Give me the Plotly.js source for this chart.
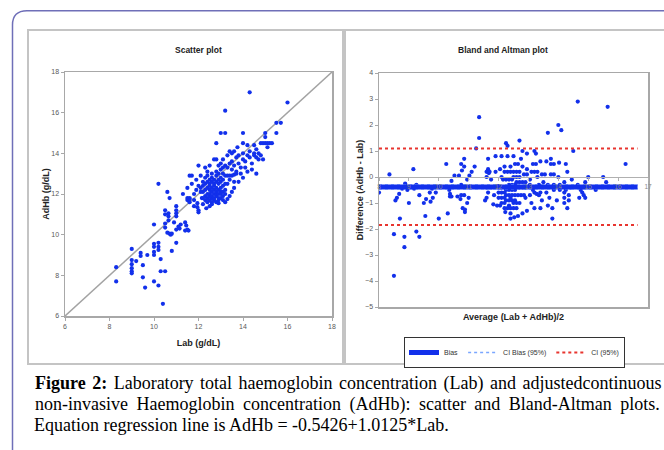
<!DOCTYPE html>
<html>
<head>
<meta charset="utf-8">
<script src="https://cdn.plot.ly/plotly-3.0.1.min.js"></script>
<style>
html,body{margin:0;padding:0;background:#fff;}
#chart{width:664px;height:450px;}
g.annotation[data-index="2"] text{word-spacing:2px;}
g.annotation[data-index="3"] text{word-spacing:4px;}
</style>
</head>
<body>
<div id="chart"></div>
<script>
// ---- Data (Lab vs AdHb, g/dL) ----
const labLow  = [8.3,8.3,9.0,9.0,9.0,9.0,9.0,9.0,9.2,9.4,9.4,9.5,9.5,9.6,9.7,10.0,10.0,10.0,10.0,10.0,10.0,10.2,10.2,10.2,10.3,10.3,10.5,10.4,10.2,10.2];
const adhbLow = [8.4,7.7,9.3,8.75,8.55,8.35,8.2,8.1,8.7,9.1,8.95,8.5,7.9,7.4,9.0,9.55,9.4,9.15,9.0,10.5,7.7,9.6,9.4,9.25,8.8,8.2,8.2,6.6,7.5,12.5];

const labB  = [10.8,10.6,10.7,10.5,10.5,10.5,10.5,10.65,10.65,10.65,10.6,10.7,10.75,10.8,11.0,11.0,11.0,11.0,11.0,10.9,11.1,11.2,11.0,11.15,11.4,11.45,11.5,11.55,11.4,11.3,11.5,11.5,11.6];
const adhbB = [9.2,12.1,11.8,11.2,11.0,10.55,10.35,11.05,10.9,10.7,10.1,10.05,10.0,10.05,11.4,11.2,11.05,10.9,9.6,10.6,10.4,10.5,10.25,10.3,10.6,10.45,10.25,10.2,10.2,12.0,11.8,11.7,11.75];

const labC  = [12.2,12.2,12.2,12.2, 12.3,12.3,12.3,12.3,12.3, 12.4,12.4,12.4,12.4,12.4,12.4, 12.5,12.5,12.5,12.5,12.5,12.5,12.5,
               12.6,12.6,12.6,12.6,12.6,12.6,12.6,12.6, 12.7,12.7,12.7,12.7,12.7,12.7,12.7, 12.8,12.8,12.8,12.8,12.8,12.8,12.8,12.8,
               12.9,12.9,12.9,12.9,12.9,12.9,12.9, 13.0,13.0,13.0,13.0,13.0,13.0,13.0, 13.1,13.1,13.1,13.1,13.1,13.1, 13.2,13.2,13.2,13.2,13.2];
const adhbC = [11.8,12.1,12.4,12.6, 11.7,11.9,12.2,12.5,12.8, 11.6,11.8,12.0,12.3,12.6,12.9, 11.7,11.9,12.0,12.2,12.4,12.5,12.7,
               11.6,11.8,11.9,12.1,12.3,12.6,12.8,13.0, 11.7,11.8,12.0,12.2,12.4,12.5,12.7, 11.6,11.9,12.0,12.1,12.3,12.6,12.9,13.1,
               11.7,11.8,12.0,12.2,12.5,12.7,13.0, 11.8,12.0,12.1,12.3,12.6,12.8,13.2, 11.9,12.1,12.4,12.7,13.0,13.3, 12.0,12.2,12.5,12.9,13.4];

const labD  = [13.3,13.4,13.5,13.6,13.7,13.3,13.4,13.5,13.5,13.6,13.7,13.8,13.8,13.9,14.0,14.0,14.1,14.2,14.3,14.3,14.4,14.5,14.5,14.6,14.6,14.7,14.7,14.8,14.9,14.6,14.4,13.6,13.8,14.0,14.2,13.9,13.4,13.3,14.1,13.7];
const adhbD = [12.9,12.9,12.9,12.95,13.0,13.3,13.5,13.2,13.6,13.4,13.8,13.5,13.9,13.3,13.7,14.0,13.6,13.9,13.8,14.1,13.5,13.9,14.0,13.8,14.2,13.7,14.0,13.9,13.7,13.0,13.2,12.6,12.6,12.8,13.1,13.0,12.7,12.5,13.3,13.1];

const labE  = [12.8,13.75,14.0,13.0,13.2,14.0,13.2,14.3,16.0,15.5,15.7,15.5,15.0,14.8,14.9,15.0,15.1,15.2,15.3,15.0,15.1,14.5,14.2,13.5,13.3,13.1,12.8,12.7,13.0,12.3,12.0,11.6,11.7,11.9,12.1,12.4,12.5,12.9,13.4,13.6];
const adhbE = [14.5,14.3,14.5,15.0,15.0,15.0,16.1,17.0,16.5,15.5,15.5,15.0,15.0,14.5,14.5,14.5,14.5,14.5,14.5,14.8,14.3,14.4,14.4,14.0,13.9,13.7,13.7,13.7,13.5,13.3,13.4,12.9,12.9,12.7,12.9,13.1,13.4,13.4,14.1,14.1];

const labF  = [12.0,12.0,11.95,11.95,12.35,12.5,12.6,12.9,13.2,13.3,13.4,13.5,13.6,13.1,12.2,11.8,11.7,12.1,12.1,12.15,11.8,11.9,11.6,11.6,11.8,12.0,11.5];
const adhbF = [11.1,11.2,11.35,11.55,11.3,11.4,11.5,11.55,11.6,11.75,11.9,12.1,12.3,11.7,11.5,11.4,12.5,12.3,12.1,11.8,12.0,12.2,11.8,11.6,11.7,12.4,12.3];

// Bland-Altman reference lines
const biasValue = -0.38;
const ciBiasValues = [-0.31, -0.45];
const ciValues = [1.1, -1.85];
const limitX = [8.0, 16.65];
const identityLine = [6, 18];

// Text
const panelTitles = ['Scatter plot', 'Bland and Altman plot'];
const captionLines = [
  '<b>Figure 2:</b> Laboratory total haemoglobin concentration (Lab) and adjustedcontinuous',
  'non-invasive Haemoglobin concentration (AdHb): scatter and Bland-Altman plots.',
  'Equation regression line is AdHb = -0.5426+1.0125*Lab.'
];
const captionX = [41, 47, 32];

// ---- Build ----
const lab = [].concat(labLow, labB, labC, labD, labE, labF);
const adhb = [].concat(adhbLow, adhbB, adhbC, adhbD, adhbE, adhbF);
const avg = lab.map((v,i) => (v + adhb[i]) / 2);
const diff = lab.map((v,i) => adhb[i] - v);

const W = 664, H = 450;
const px = x => x / W;
const py = y => 1 - y / H;

const blue = 'rgb(18,48,235)';
const fam = 'Liberation Sans Narrow, Liberation Sans, Arial';
const axisFont = {family: fam, size: 7, color: '#595959'};
const titleFont = {family: fam, size: 9, color: '#222'};

const traces = [
  {x: identityLine, y: identityLine, mode: 'lines', line: {color: '#a3a3a3', width: 1.5}, xaxis: 'x', yaxis: 'y', showlegend: false, hoverinfo: 'skip'},
  {x: lab, y: adhb, mode: 'markers', marker: {color: blue, size: 4.2}, xaxis: 'x', yaxis: 'y', showlegend: false},
  {x: avg, y: diff, mode: 'markers', marker: {color: blue, size: 4.2}, xaxis: 'x2', yaxis: 'y2', showlegend: false},
  {x: limitX, y: limitX.map(() => biasValue), mode: 'lines', name: 'Bias', line: {color: blue, width: 5}, xaxis: 'x3', yaxis: 'y2'},
  {x: limitX, y: limitX.map(() => ciBiasValues[0]), mode: 'lines', name: 'CI Bias (95%)', line: {color: '#7aa6ff', width: 1.5, dash: 'dot'}, xaxis: 'x2', yaxis: 'y2', legendgroup: 'cib'},
  {x: limitX, y: limitX.map(() => ciBiasValues[1]), mode: 'lines', name: 'CI Bias (95%)', line: {color: '#7aa6ff', width: 1.5, dash: 'dot'}, xaxis: 'x2', yaxis: 'y2', legendgroup: 'cib', showlegend: false},
  {x: limitX, y: limitX.map(() => ciValues[0]), mode: 'lines', name: 'CI (95%)', line: {color: '#e8352f', width: 2, dash: 'dot'}, xaxis: 'x2', yaxis: 'y2', legendgroup: 'ci'},
  {x: limitX, y: limitX.map(() => ciValues[1]), mode: 'lines', name: 'CI (95%)', line: {color: '#e8352f', width: 2, dash: 'dot'}, xaxis: 'x2', yaxis: 'y2', legendgroup: 'ci', showlegend: false}
];

const frameAxis = {showgrid: false, zeroline: false, showline: true, mirror: true, linecolor: '#a8a8a8', linewidth: 1.5,
  ticks: 'outside', ticklen: 3, tickcolor: '#a8a8a8', tickfont: axisFont};

const layout = {
  width: W, height: H,
  margin: {l: 0, r: 0, t: 0, b: 0},
  paper_bgcolor: '#fff', plot_bgcolor: '#fff',
  showlegend: true,
  legend: {x: px(404), y: py(337), xanchor: 'left', yanchor: 'top', orientation: 'h',
    font: {family: fam, size: 7, color: '#333'},
    bordercolor: '#333', borderwidth: 1, bgcolor: '#fff', itemwidth: 30, tracegroupgap: 0},
  xaxis: Object.assign({}, frameAxis, {domain: [px(65), px(332)], range: [6, 18], dtick: 2, anchor: 'y',
    title: {text: '<b>Lab (g/dL)</b>', font: titleFont, standoff: 11}}),
  yaxis: Object.assign({}, frameAxis, {domain: [py(316), py(72)], range: [6, 18], dtick: 2, anchor: 'x',
    title: {text: '<b>AdHb (g/dL)</b>', font: titleFont, standoff: 0}}),
  xaxis2: Object.assign({}, frameAxis, {domain: [px(379), px(648)], range: [8, 17], anchor: 'y2', ticks: '', showticklabels: false,
    title: {text: '<b>Average (Lab + AdHb)/2</b>', font: titleFont, standoff: 6}}),
  xaxis3: {overlaying: 'x2', anchor: 'free', position: py(177), range: [8, 17], dtick: 1, side: 'bottom',
    showgrid: false, zeroline: false, showline: true, linecolor: '#b0b0b0', linewidth: 1.2,
    ticks: 'outside', ticklen: 3, tickcolor: '#b0b0b0', tickfont: {family: fam, size: 6.5, color: '#8a8a8a'}},
  yaxis2: Object.assign({}, frameAxis, {domain: [py(307), py(73)], range: [-5, 4], dtick: 1, anchor: 'x2',
    title: {text: '<b>Difference (AdHb - Lab)</b>', font: titleFont, standoff: 0}}),
  shapes: [
    {type: 'path', xref: 'paper', yref: 'paper',
     path: `M ${px(12.5)},0 L ${px(12.5)},${py(25)} Q ${px(12.5)},${py(10.7)} ${px(27)},${py(10.7)} L 1.01,${py(10.7)}`,
     line: {color: '#6f6fb8', width: 1.5}},
    {type: 'rect', xref: 'paper', yref: 'paper', x0: px(28), x1: px(343), y0: py(364), y1: py(30), line: {color: '#c4c4c4', width: 2}},
    {type: 'rect', xref: 'paper', yref: 'paper', x0: px(345), x1: px(675), y0: py(364), y1: py(30), line: {color: '#c4c4c4', width: 2}}
  ],
  annotations: [
    {text: '<b>' + panelTitles[0] + '</b>', xref: 'paper', yref: 'paper', x: px(198), y: py(50), xanchor: 'center', yanchor: 'middle', showarrow: false,
     font: {family: fam, size: 8.5, color: '#222'}},
    {text: '<b>' + panelTitles[1] + '</b>', xref: 'paper', yref: 'paper', x: px(503), y: py(50), xanchor: 'center', yanchor: 'middle', showarrow: false,
     font: {family: fam, size: 8.5, color: '#222'}},
    ...captionLines.map((t, i) => ({text: t, xref: 'paper', yref: 'paper', x: px(captionX[i]), y: py(383 + 21 * i),
      xanchor: 'left', yanchor: 'middle', showarrow: false,
      font: {family: 'Liberation Serif, Times New Roman, serif', size: 18, color: '#000'}}))
  ]
};

Plotly.newPlot('chart', traces, layout, {staticPlot: true, displayModeBar: false});
</script>
</body>
</html>
